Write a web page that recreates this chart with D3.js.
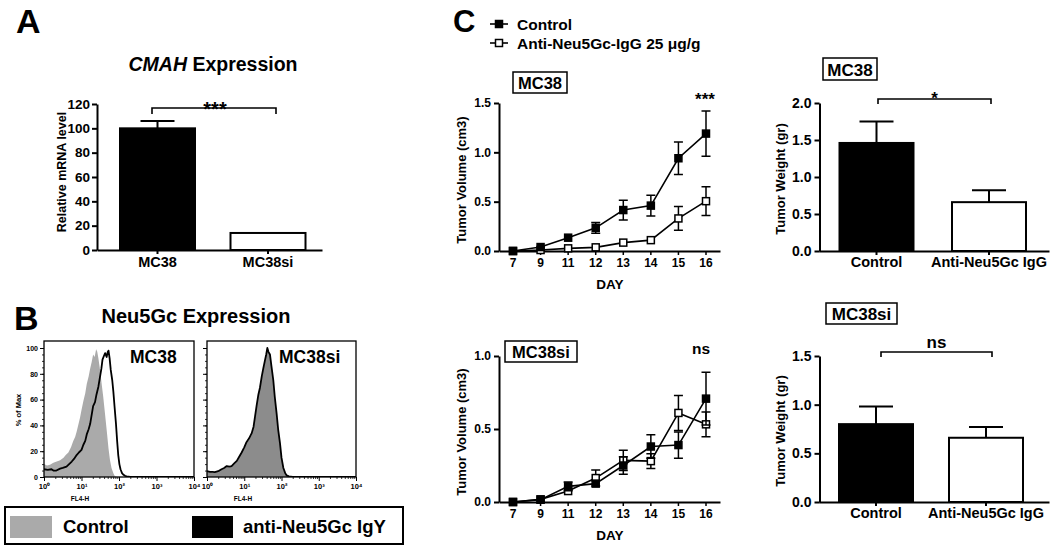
<!DOCTYPE html>
<html><head><meta charset="utf-8">
<script src="https://cdn.jsdelivr.net/npm/d3@7"></script>
<style>
html,body{margin:0;padding:0;background:#fff;}
svg{display:block;font-family:Arial,"Liberation Sans",sans-serif;font-weight:bold;}
</style></head>
<body>
<svg id="fig" width="1050" height="553"></svg>
<script>
// ---------- DATA ----------
// Panel A
const aCategories = ["MC38", "MC38si"];
const aValues = [100, 14];
const aErrors = [6, 0.5];
const aTicks = [0, 20, 40, 60, 80, 100, 120];

// Panel B histograms (x = log10 FL4-H, y = % of Max)
const bTickLabels = ["10\u2070", "10\u00b9", "10\u00b2", "10\u00b3", "10\u2074"];
const bYTicks = [0, 20, 40, 60, 80, 100];
const mc38ControlLog = [0,0.08,0.16,0.25,0.34,0.43,0.52,0.58,0.65,0.72,0.78,0.83,0.87,0.92,0.96,1.0,1.05,1.1,1.14,1.19,1.23,1.27,1.31,1.35,1.39,1.42,1.45,1.49,1.53,1.58,1.63,1.68,1.72,1.76,1.8,1.85,1.89,1.95,2.0];
const mc38ControlPct = [10,9,9.5,11,12,13,15,17,19,23,28,31,35,41,46,52,59,65,72,78,84,89,95,93,99,97,92,84,74,62,48,34,22,13,7,3,0.5,0,0];
const mc38AntiLog = [0,0.1,0.2,0.25,0.33,0.43,0.5,0.6,0.67,0.74,0.8,0.87,0.93,1.0,1.05,1.1,1.14,1.19,1.23,1.27,1.31,1.36,1.4,1.45,1.49,1.53,1.56,1.6,1.63,1.67,1.7,1.72,1.75,1.78,1.82,1.85,1.88,1.92,1.95,1.98,2.01,2.04,2.08,2.11,2.16,2.2,2.3,2.5,3,3.5,4];
const mc38AntiPct = [6,5.5,6,5,5,6.5,7,8,10,12,14,17,19,21,25,28,33,37,41,48,55,58,64,70,77,84,91,94,96,93,97,98,92,83,75,66,55,41,28,17,10,6,3,2,1,0.5,0,0,0,0,0];
const mc38siLog = [0,0.08,0.14,0.21,0.3,0.39,0.46,0.53,0.6,0.66,0.73,0.8,0.86,0.93,1.0,1.06,1.13,1.2,1.25,1.29,1.33,1.38,1.42,1.47,1.51,1.56,1.59,1.62,1.65,1.69,1.73,1.78,1.82,1.87,1.91,1.96,2.0,2.05,2.1,2.14,2.2,2.3,2.5,3,3.5,4];
const mc38siControlPct = [4,4.5,3.5,3.6,4,6,6.5,8,7.5,8,10,12,15,19,22,26,29,33,38,46,54,63,68,77,83,90,94,99.5,97,94,85,74,61,48,36,25,14,6,3,1,0.5,0,0,0,0,0];
const mc38siAntiPct = [4.5,4,4,3.8,4.5,6,7,8.5,8,8.5,10.5,12.5,15.5,19,23,27,30,34,39,47,55,64,69,78,84,91,95,100,97,95,86,75,62,49,37,26,15,7,3,1.2,0.5,0,0,0,0,0];

// Panel C growth curves
const days = ["7", "9", "11", "12", "13", "14", "15", "16"];
const mc38Control = [0.0, 0.04, 0.135, 0.235, 0.415, 0.46, 0.94, 1.19];
const mc38ControlErr = [0.0, 0.01, 0.015, 0.055, 0.1, 0.105, 0.165, 0.23];
const mc38Anti = [0.0, 0.01, 0.027, 0.037, 0.085, 0.11, 0.33, 0.505];
const mc38AntiErr = [0.0, 0.005, 0.01, 0.01, 0.015, 0.02, 0.12, 0.145];
const mc38siControl = [0.0, 0.016, 0.107, 0.126, 0.25, 0.38, 0.39, 0.708];
const mc38siControlErr = [0.0, 0.005, 0.03, 0.02, 0.06, 0.08, 0.09, 0.18];
const mc38siAnti = [0.0, 0.018, 0.075, 0.164, 0.285, 0.28, 0.61, 0.532];
const mc38siAntiErr = [0.0, 0.005, 0.02, 0.055, 0.07, 0.05, 0.12, 0.085];
const cTopTicks = [0, 0.5, 1.0, 1.5];
const cBottomTicks = [0, 0.5, 1.0];

// Panel C tumor weights
const weightCategories = ["Control", "Anti-Neu5Gc IgG"];
const mc38Weight = [1.46, 0.66];
const mc38WeightErr = [0.29, 0.16];
const mc38siWeight = [0.80, 0.66];
const mc38siWeightErr = [0.18, 0.11];
const wTopTicks = [0, 0.5, 1.0, 1.5, 2.0];
const wBottomTicks = [0, 0.5, 1.0, 1.5];

// ---------- DRAWING ----------
const svg = d3.select("#fig");
svg.append("rect").attr("width", 1050).attr("height", 553).attr("fill", "#fff");
const fmt1 = d3.format(".1f");

function txt(g, x, y, s, size, anchor, rot) {
  const t = g.append("text").attr("x", x).attr("y", y).attr("font-size", size)
    .attr("text-anchor", anchor || "start").attr("fill", "#000").text(s);
  if (rot) t.attr("transform", `rotate(${rot},${x},${y})`);
  return t;
}
function styleAxis(g, sw, fs) {
  g.selectAll("path").attr("stroke", "#000").attr("stroke-width", sw);
  g.selectAll("line").attr("stroke", "#000").attr("stroke-width", sw);
  g.selectAll("text").attr("font-size", fs).attr("font-weight", "bold")
    .attr("font-family", "Arial,'Liberation Sans',sans-serif").attr("fill", "#000");
}
function bracket(x1, x2, y, drop) {
  svg.append("path").attr("d", `M${x1},${y + drop}V${y}H${x2}V${y + drop}`)
    .attr("fill", "none").attr("stroke", "#000").attr("stroke-width", 1.6);
}

// ===== Panel A =====
txt(svg, 16, 33, "A", 34);
const aTitle = svg.append("text").attr("x", 213).attr("y", 71).attr("font-size", 19.5)
  .attr("text-anchor", "middle");
aTitle.append("tspan").attr("font-style", "italic").text("CMAH");
aTitle.append("tspan").text(" Expression");
const yA = d3.scaleLinear().domain([0, 120]).range([250, 104]);
const xA = d3.scalePoint().domain(aCategories).range([157.5, 268]);
const aBarW = 75;
svg.selectAll(".abar").data(aCategories).join("rect")
  .attr("x", d => xA(d) - aBarW / 2).attr("width", aBarW)
  .attr("y", (d, i) => yA(aValues[i])).attr("height", (d, i) => yA(0) - yA(aValues[i]))
  .attr("fill", (d, i) => i === 0 ? "#000" : "#fff").attr("stroke", "#000").attr("stroke-width", 2);
aCategories.forEach((c, i) => {
  if (aErrors[i] > 1) {
    svg.append("path").attr("d", `M${xA(c)},${yA(aValues[i])}V${yA(aValues[i] + aErrors[i])}M${xA(c) - 17},${yA(aValues[i] + aErrors[i])}H${xA(c) + 17}`)
      .attr("stroke", "#000").attr("stroke-width", 2).attr("fill", "none");
  }
});
const gAy = svg.append("g").attr("transform", "translate(97,0)")
  .call(d3.axisLeft(yA).tickValues(aTicks).tickSize(5).tickPadding(2).tickSizeOuter(0));
styleAxis(gAy, 2, 13.5);
const gAx = svg.append("g").attr("transform", "translate(0,250)")
  .call(d3.axisBottom(d3.scaleLinear().domain([97, 322]).range([97, 322])).tickValues([]).tickSizeOuter(0));
styleAxis(gAx, 2, 14);
aCategories.forEach(c => {
  svg.append("line").attr("x1", xA(c)).attr("x2", xA(c)).attr("y1", 250).attr("y2", 254).attr("stroke", "#000").attr("stroke-width", 2);
  txt(svg, xA(c), 267, c, 14.5, "middle");
});
txt(svg, 66, 172, "Relative mRNA level", 12.5, "middle", -90);
bracket(152, 276, 108, 6);
txt(svg, 215, 116, "***", 20, "middle");

// ===== Panel B =====
txt(svg, 14, 330, "B", 34);
txt(svg, 196, 323, "Neu5Gc Expression", 20, "middle");
const yH = d3.scaleLinear().domain([0, 100]).range([477, 348]);
function histPanel(x0, x1, label, labelX, fillLog, fillPct, fillColor, lineLog, linePct, showY) {
  const xH = d3.scaleLog().domain([1, 1e4]).range([x0, x1]);
  const g = svg.append("g");
  const clipId = "clip" + x0;
  g.append("clipPath").attr("id", clipId).append("rect").attr("x", x0).attr("y", 341).attr("width", x1 - x0).attr("height", 136);
  const area = d3.area().x(d => xH(Math.pow(10, d[0]))).y0(yH(0)).y1(d => yH(d[1]));
  const line = d3.line().x(d => xH(Math.pow(10, d[0]))).y(d => yH(d[1]));
  g.append("path").datum(d3.zip(fillLog, fillPct)).attr("d", area).attr("fill", fillColor).attr("clip-path", `url(#${clipId})`);
  g.append("path").datum(d3.zip(lineLog, linePct)).attr("d", line).attr("fill", "none")
    .attr("stroke", "#000").attr("stroke-width", 1.8).attr("stroke-linejoin", "round").attr("clip-path", `url(#${clipId})`);
  g.append("rect").attr("x", x0).attr("y", 341).attr("width", x1 - x0).attr("height", 136)
    .attr("fill", "none").attr("stroke", "#000").attr("stroke-width", 1.3);
  // x axis
  const minor = [];
  for (let e = 0; e < 4; e++) for (let m = 2; m <= 9; m++) minor.push(m * Math.pow(10, e));
  const gx = g.append("g").attr("transform", "translate(0,477)")
    .call(d3.axisBottom(xH).tickValues(minor).tickSize(2).tickFormat(""));
  styleAxis(gx, 0.8, 7); gx.select("path").remove();
  const gx2 = g.append("g").attr("transform", "translate(0,477)")
    .call(d3.axisBottom(xH).tickValues([1, 10, 100, 1000, 10000]).tickSize(4).tickPadding(3).tickFormat((d, i) => bTickLabels[i]));
  styleAxis(gx2, 1, 7.5); gx2.select("path").remove();
  txt(g, x0 + 36, 501, "FL4-H", 6.5, "middle");
  // y axis
  const gy = g.append("g").attr("transform", `translate(${x0},0)`)
    .call(d3.axisLeft(yH).tickValues(d3.range(0, 101, 5)).tickSize(2).tickFormat(""));
  styleAxis(gy, 0.8, 7); gy.select("path").remove();
  const gy2 = g.append("g").attr("transform", `translate(${x0},0)`)
    .call(d3.axisLeft(yH).tickValues(bYTicks).tickSize(4).tickPadding(2).tickFormat(showY ? d3.format("d") : ""));
  styleAxis(gy2, 1, 7); gy2.select("path").remove();
  txt(g, labelX, 363, label, 17.5);
}
histPanel(44, 194, "MC38", 130, mc38ControlLog, mc38ControlPct, "#aaaaaa", mc38AntiLog, mc38AntiPct, true);
histPanel(207, 356, "MC38si", 279, mc38siLog, mc38siControlPct, "#8c8c8c", mc38siLog, mc38siAntiPct, false);
txt(svg, 21, 410, "% of Max", 7.5, "middle", -90);
// legend box
svg.append("rect").attr("x", 5).attr("y", 507).attr("width", 398).attr("height", 37)
  .attr("fill", "#fff").attr("stroke", "#000").attr("stroke-width", 2);
svg.append("rect").attr("x", 10).attr("y", 516).attr("width", 42).attr("height", 22).attr("fill", "#aaaaaa");
txt(svg, 63, 533, "Control", 18.5);
svg.append("rect").attr("x", 192).attr("y", 516).attr("width", 41).attr("height", 22).attr("fill", "#000");
txt(svg, 243, 533, "anti-Neu5Gc IgY", 18.5);

// ===== Panel C line charts =====
txt(svg, 453, 32, "C", 31);
// legend
function marker(g, x, y, filled) {
  g.append("rect").attr("x", x - 3.5).attr("y", y - 3.5).attr("width", 7).attr("height", 7)
    .attr("fill", filled ? "#000" : "#fff").attr("stroke", "#000").attr("stroke-width", 1.5);
}
[[24, true, "Control", 30], [43, false, "Anti-Neu5Gc-IgG 25 \u03bcg/g", 49]].forEach(([y, f, s, by]) => {
  svg.append("line").attr("x1", 490).attr("x2", 508).attr("y1", y).attr("y2", y).attr("stroke", "#000").attr("stroke-width", 1.6);
  marker(svg, 499, y, f);
  txt(svg, 517, by, s, 15.5);
});
function boxLabel(x, y, w, h, s, size) {
  svg.append("rect").attr("x", x).attr("y", y).attr("width", w).attr("height", h)
    .attr("fill", "#fff").attr("stroke", "#000").attr("stroke-width", 1.5);
  txt(svg, x + w / 2, y + h - 4.5, s, size, "middle");
}
const xC = d3.scalePoint().domain(days).range([513, 706]);
function growthChart(y0, y1, maxV, ticks, ctrl, ctrlErr, anti, antiErr, sig, sigX, sigY) {
  const yS = d3.scaleLinear().domain([0, maxV]).range([y0, y1]);
  const gy = svg.append("g").attr("transform", "translate(499,0)")
    .call(d3.axisLeft(yS).tickValues(ticks).tickSize(5).tickPadding(3).tickFormat(fmt1).tickSizeOuter(0));
  styleAxis(gy, 2, 12);
  const gx = svg.append("g").attr("transform", `translate(0,${y0})`)
    .call(d3.axisBottom(d3.scaleLinear().domain([499, 720]).range([499, 720])).tickValues([]).tickSizeOuter(0));
  styleAxis(gx, 2, 12);
  days.forEach(d => {
    svg.append("line").attr("x1", xC(d)).attr("x2", xC(d)).attr("y1", y0).attr("y2", y0 + 4).attr("stroke", "#000").attr("stroke-width", 1.5);
    txt(svg, xC(d), y0 + 16, d, 12, "middle");
  });
  txt(svg, 610, y0 + 38, "DAY", 13.5, "middle");
  txt(svg, 466, (y0 + y1) / 2 + 3, "Tumor Volume (cm3)", 13, "middle", -90);
  const line = d3.line().x((v, i) => xC(days[i])).y(v => yS(v));
  [[anti, antiErr, false], [ctrl, ctrlErr, true]].forEach(([vals, errs, filled]) => {
    const g = svg.append("g");
    vals.forEach((v, i) => {
      if (errs[i] > 0.02) {
        const x = xC(days[i]);
        g.append("path").attr("d", `M${x},${yS(v - errs[i])}V${yS(v + errs[i])}M${x - 4.5},${yS(v - errs[i])}H${x + 4.5}M${x - 4.5},${yS(v + errs[i])}H${x + 4.5}`)
          .attr("stroke", "#000").attr("stroke-width", 1.5).attr("fill", "none");
      }
    });
    g.append("path").datum(vals).attr("d", line).attr("fill", "none").attr("stroke", "#000").attr("stroke-width", 1.6);
    vals.forEach((v, i) => marker(g, xC(days[i]), yS(v), filled));
  });
  txt(svg, sigX, sigY, sig, sig === "ns" ? 15.5 : 17, "middle");
}
boxLabel(513, 72, 54, 21, "MC38", 16.5);
growthChart(251, 103, 1.5, cTopTicks, mc38Control, mc38ControlErr, mc38Anti, mc38AntiErr, "***", 705, 105);
boxLabel(505, 341, 72, 21, "MC38si", 16.5);
growthChart(502, 356, 1.0, cBottomTicks, mc38siControl, mc38siControlErr, mc38siAnti, mc38siAntiErr, "ns", 701, 354);

// ===== Panel C weight bar charts =====
function weightChart(y0, y1, maxV, ticks, centers, vals, errs, bx1, bx2, sig, sigY) {
  const yS = d3.scaleLinear().domain([0, maxV]).range([y0, y1]);
  const xS = d3.scalePoint().domain(weightCategories).range(centers);
  const bw = 74;
  svg.selectAll(null).data(weightCategories).join("rect")
    .attr("x", d => xS(d) - bw / 2).attr("width", bw)
    .attr("y", (d, i) => yS(vals[i])).attr("height", (d, i) => y0 - yS(vals[i]))
    .attr("fill", (d, i) => i === 0 ? "#000" : "#fff").attr("stroke", "#000").attr("stroke-width", 2);
  weightCategories.forEach((c, i) => {
    const x = xS(c);
    svg.append("path").attr("d", `M${x},${yS(vals[i])}V${yS(vals[i] + errs[i])}M${x - 17},${yS(vals[i] + errs[i])}H${x + 17}`)
      .attr("stroke", "#000").attr("stroke-width", 2).attr("fill", "none");
    svg.append("line").attr("x1", x).attr("x2", x).attr("y1", y0).attr("y2", y0 + 4).attr("stroke", "#000").attr("stroke-width", 2);
    txt(svg, x, y0 + 16, c, 14.5, "middle");
  });
  const gy = svg.append("g").attr("transform", "translate(819.5,0)")
    .call(d3.axisLeft(yS).tickValues(ticks).tickSize(5).tickPadding(3).tickFormat(fmt1).tickSizeOuter(0));
  styleAxis(gy, 2, 14);
  const gx = svg.append("g").attr("transform", `translate(0,${y0})`)
    .call(d3.axisBottom(d3.scaleLinear().domain([819, 1049]).range([819, 1049])).tickValues([]).tickSizeOuter(0));
  styleAxis(gx, 2, 12);
  txt(svg, 785, (y0 + y1) / 2 + 2, "Tumor Weight (gr)", 13, "middle", -90);
  bracket(bx1, bx2, y1 - 4, 5);
  txt(svg, (bx1 + bx2) / 2, sigY, sig, sig === "ns" ? 17 : 17, "middle");
}
boxLabel(823, 58, 54, 22, "MC38", 17);
weightChart(251, 103, 2.0, wTopTicks, [876.5, 989], mc38Weight, mc38WeightErr, 878, 991, "*", 104);
boxLabel(826, 303, 71, 21, "MC38si", 17);
weightChart(502, 356, 1.5, wBottomTicks, [876, 986], mc38siWeight, mc38siWeightErr, 881, 992, "ns", 348);
</script>
</body></html>
